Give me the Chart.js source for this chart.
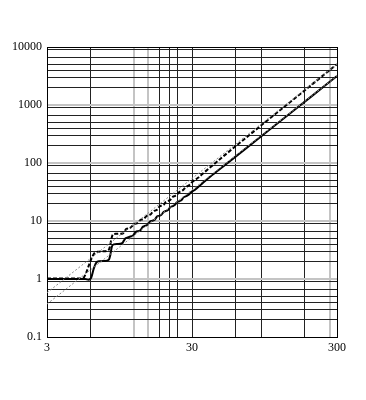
<!DOCTYPE html>
<html>
<head>
<meta charset="utf-8">
<script src="https://cdn.jsdelivr.net/npm/chart.js@4"></script>
<style>
  html, body { margin: 0; padding: 0; background: #fff; }
  #wrap { width: 366px; height: 400px; }
</style>
</head>
<body>
<div id="wrap"><canvas id="chart"></canvas></div>
<script>
// solid curve
const solidX = [3, 4, 5, 5.5, 5.8, 6.05, 6.3, 6.55, 6.9, 7.5, 8.0, 8.2, 8.4, 8.65, 9.2, 9.9, 10.15, 10.4, 10.7, 11.3, 11.7, 12.0, 12.3, 12.8, 13.2, 13.5, 13.8, 14.3, 14.8, 15.1, 15.4, 16.0, 16.6, 16.9, 17.2, 17.9, 18.5, 18.8, 19.1, 19.9, 20.6, 20.9, 21.2, 22.1, 22.9, 23.2, 23.5, 24.5, 25.5, 25.8, 26.1, 27.3, 28.5, 29.0, 29.4, 31.5, 35, 40, 50, 70, 100, 150, 200, 300];
const solidY = [1, 1, 1, 1, 0.97, 1.05, 1.5, 1.9, 2.02, 2.05, 2.15, 2.6, 3.6, 3.95, 4.0, 4.15, 4.55, 5.0, 5.15, 5.4, 5.55, 6.0, 6.5, 6.7, 6.9, 7.5, 8.0, 8.3, 8.6, 9.2, 9.8, 10.1, 10.5, 11.2, 11.9, 12.3, 12.9, 13.6, 14.3, 14.9, 15.6, 16.4, 17.2, 18.1, 19.0, 19.9, 20.8, 21.9, 23.1, 24.2, 25.3, 26.8, 28.5, 29.8, 31.0, 34.5, 43.5, 58, 90, 175, 355, 795, 1410, 3165];

// dashed curve
const dashedX = [3, 4, 5, 5.35, 5.6, 5.85, 6.1, 6.35, 6.7, 7.3, 7.9, 8.15, 8.35, 8.55, 9.0, 9.6, 10.0, 10.3, 10.6, 11.0, 11.3, 11.6, 11.9, 12.3, 12.6, 12.9, 13.2, 13.7, 14.0, 14.3, 14.6, 15.2, 15.6, 15.9, 16.2, 16.9, 17.3, 17.6, 17.9, 18.7, 19.2, 19.5, 19.8, 20.7, 21.3, 21.6, 21.9, 23.0, 23.6, 24.0, 24.4, 25.6, 26.2, 26.6, 27.0, 28.4, 29.1, 29.5, 29.9, 33, 37, 42, 50, 70, 100, 150, 200, 300];
const dashedY = [1.02, 1.02, 1.02, 1.05, 1.3, 1.75, 2.3, 2.75, 2.95, 3.0, 3.1, 3.6, 5.0, 5.9, 6.0, 6.05, 6.1, 6.7, 7.3, 7.5, 7.7, 8.2, 8.8, 9.0, 9.2, 9.8, 10.4, 10.7, 11.0, 11.6, 12.2, 12.7, 13.1, 13.9, 14.7, 15.3, 15.8, 16.8, 17.8, 18.5, 19.2, 20.3, 21.4, 22.4, 23.2, 24.4, 25.6, 27.2, 28.4, 29.8, 31.2, 33.3, 34.7, 36.3, 37.9, 40.8, 42.6, 44.5, 46.4, 55.5, 71, 93, 134, 267, 550, 1245, 2225, 5040];

// dotted reference lines
const upperRefX = [3, 300];
const upperRefY = [0.58, 5040];
const lowerRefX = [3, 300];
const lowerRefY = [0.37, 3165];

// grid and labels
const xGrid = [3, 6, 12, 15, 18, 21, 24, 30, 60, 90, 180, 270, 300];
const xGridGray = [12, 15, 270];
const xLabels = [3, 30, 300];
const yDecades = [0.1, 1, 10, 100, 1000, 10000];
const yMinorSteps = [2, 3, 4, 5, 6.7, 9];
const yLabels = [0.1, 1, 10, 100, 1000, 10000];

const pts = (xs, ys) => xs.map((x, i) => ({ x: x, y: ys[i] }));

const yGrid = [];
yDecades.forEach((d, i) => {
  yGrid.push(d);
  if (i < yDecades.length - 1) yMinorSteps.forEach(m => yGrid.push(+(d * m).toPrecision(4)));
});

const GRAY = '#c4c4c4';
const DARK = '#222';
const font = { family: 'Liberation Serif', size: 12 };

new Chart(document.getElementById('chart'), {
  type: 'scatter',
  data: {
    datasets: [
      {
        data: pts(lowerRefX, lowerRefY),
        showLine: true, borderColor: '#8a8a8a', borderWidth: 1, borderDash: [2, 2],
        pointRadius: 0,
      },
      {
        data: pts(upperRefX, upperRefY),
        showLine: true, borderColor: '#8a8a8a', borderWidth: 1, borderDash: [2, 2],
        pointRadius: 0,
      },
      {
        data: pts(dashedX, dashedY),
        showLine: true, borderColor: '#000', borderWidth: 2, borderDash: [4, 2],
        pointRadius: 0, cubicInterpolationMode: 'monotone',
      },
      {
        data: pts(solidX, solidY),
        showLine: true, borderColor: '#000', borderWidth: 2,
        pointRadius: 0, cubicInterpolationMode: 'monotone',
      },
    ],
  },
  options: {
    responsive: true,
    maintainAspectRatio: false,
    animation: false,
    layout: { padding: { top: 47, right: 29, bottom: 0, left: 0 } },
    plugins: { legend: { display: false }, tooltip: { enabled: false } },
    scales: {
      x: {
        type: 'logarithmic',
        min: 3,
        max: 300,
        afterBuildTicks: axis => { axis.ticks = xGrid.map(v => ({ value: v })); },
        afterFit: axis => { axis.height = 63; },
        border: { display: true, color: '#000', width: 1 },
        grid: {
          drawTicks: false,
          color: ctx => xGridGray.includes(ctx.tick.value) ? GRAY : (ctx.tick.value === 3 || ctx.tick.value === 300 ? '#000' : DARK),
          lineWidth: ctx => xGridGray.includes(ctx.tick.value) ? 2 : 1,
        },
        ticks: {
          autoSkip: false,
          maxRotation: 0,
          padding: 4,
          color: '#000',
          font: font,
          callback: v => xLabels.includes(v) ? String(v) : '',
        },
      },
      y: {
        type: 'logarithmic',
        min: 0.1,
        max: 10000,
        afterBuildTicks: axis => { axis.ticks = yGrid.map(v => ({ value: v })); },
        afterFit: axis => { axis.width = 47; },
        border: { display: true, color: '#000', width: 1 },
        grid: {
          drawTicks: false,
          color: ctx => {
            const v = ctx.tick.value;
            if (v === 0.1 || v === 10000) return '#000';
            return yDecades.includes(v) ? GRAY : DARK;
          },
          lineWidth: ctx => {
            const v = ctx.tick.value;
            return yDecades.includes(v) && v !== 0.1 && v !== 10000 ? 2 : 1;
          },
        },
        ticks: {
          autoSkip: false,
          padding: 5,
          color: '#000',
          font: font,
          callback: v => yLabels.includes(v) ? String(v) : '',
        },
      },
    },
  },
});
</script>
</body>
</html>
